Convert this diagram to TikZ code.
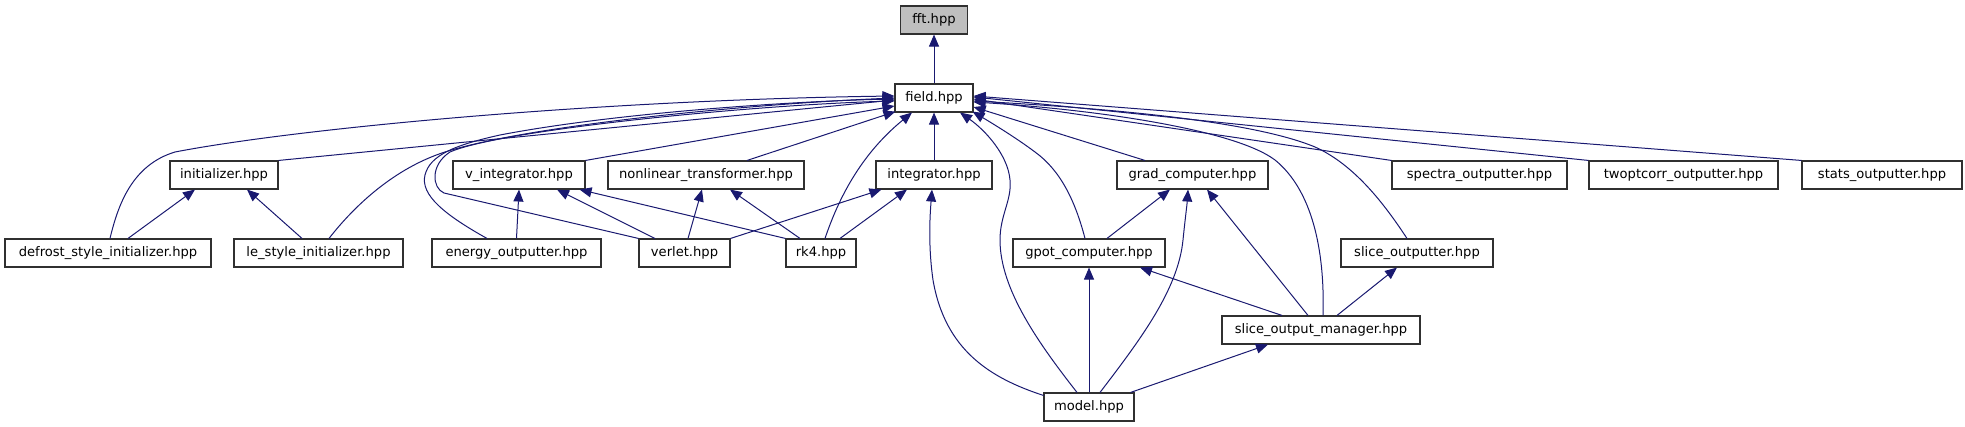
\documentclass[tikz,border=0pt]{standalone}
\usepackage{fontspec}
\setmainfont{DejaVu Sans}
\usetikzlibrary{arrows.meta,calc}
\definecolor{edgecol}{HTML}{191970}
\definecolor{fftfill}{HTML}{BFBFBF}
\definecolor{boxline}{HTML}{303030}
\begin{document}
\begin{tikzpicture}[x=1pt,y=-1pt,
  file/.style={draw=boxline, line width=1.1pt, fill=white, inner sep=0pt, minimum height=28pt,
    font=\fontsize{13.1}{15}\selectfont, text=black},
  dep/.style={draw=edgecol, line width=1pt, -{Triangle[length=12pt,width=10pt]}}
]
\useasboundingbox (0,0) rectangle (1965,427);
% rank 0 and 1
\node[file, fill=fftfill, minimum width=67pt] (fft) at (934,20) {fft.hpp};
\node[file, minimum width=78pt] (field) at (934,98) {field.hpp};
% rank 2
\node[file, minimum width=108pt] (initializer) at (224,175) {initializer.hpp};
\node[file, minimum width=132pt] (v_integrator) at (519,175) {v\_integrator.hpp};
\node[file, minimum width=196pt] (nonlinear) at (706,175) {nonlinear\_transformer.hpp};
\node[file, minimum width=116pt] (integrator) at (934,175) {integrator.hpp};
\node[file, minimum width=151pt] (grad) at (1192.5,175) {grad\_computer.hpp};
\node[file, minimum width=175pt] (spectra) at (1479.5,175) {spectra\_outputter.hpp};
\node[file, minimum width=189pt] (twoptcorr) at (1683.5,175) {twoptcorr\_outputter.hpp};
\node[file, minimum width=160pt] (stats) at (1882,175) {stats\_outputter.hpp};
% rank 3
\node[file, minimum width=206pt] (defrost) at (108,253) {defrost\_style\_initializer.hpp};
\node[file, minimum width=169pt] (le_style) at (318.5,253) {le\_style\_initializer.hpp};
\node[file, minimum width=169pt] (energy) at (516.5,253) {energy\_outputter.hpp};
\node[file, minimum width=91pt] (verlet) at (684.5,253) {verlet.hpp};
\node[file, minimum width=70pt] (rk4) at (821,253) {rk4.hpp};
\node[file, minimum width=152pt] (gpot) at (1089,253) {gpot\_computer.hpp};
\node[file, minimum width=152pt] (slice_outputter) at (1417,253) {slice\_outputter.hpp};
% rank 4 and 5
\node[file, minimum width=198pt] (som) at (1321,330) {slice\_output\_manager.hpp};
\node[file, minimum width=90pt] (model) at (1089,407) {model.hpp};

% edges to fft
\draw[dep] (field.north) -- (fft.south);
% edges to field, left side
\draw[dep] ($(defrost.north)+(2,0)$) .. controls (118,205) and (132,165) .. (175,152)
  .. controls (300,128) and (600,100) .. ($(field.west)+(0,-2)$);
\draw[dep] (initializer.north east) -- ($(field.west)+(0,2)$);
\draw[dep] ($(le_style.north)+(10.5,0)$) .. controls (355,205) and (395,168) .. (445,152)
  .. controls (530,125) and (750,104) .. (field.west);
\draw[dep] ($(energy.north)+(-29.5,0)$) .. controls (445,215) and (420,195) .. (425,175)
  .. controls (430,155) and (455,145) .. (500,135)
  .. controls (620,112) and (800,101) .. ($(field.west)+(0,1)$);
\draw[dep] (verlet.north west) -- (444,193) .. controls (432,188) and (430,165) .. (450,152)
  .. controls (500,130) and (750,105) .. ($(field.west)+(0,3)$);
\draw[dep] (v_integrator.north east) -- ($(field.west)+(0,8)$);
\draw[dep] ($(nonlinear.north)+(41,0)$) -- ($(field.south west)+(1,-1)$);
\draw[dep] ($(rk4.north)+(4,0)$) .. controls (838,200) and (860,155) .. ($(field.south)+(-22,0)$);
\draw[dep] (integrator.north) -- (field.south);
% edges to field, right side
\draw[dep] ($(model.north)+(-12,0)$) .. controls (1040,345) and (1000,290) .. (1000,240)
  .. controls (1000,215) and (1012,200) .. (1010,180)
  .. controls (1008,155) and (985,130) .. ($(field.south)+(26,0)$);
\draw[dep] ($(gpot.north)+(-4,0)$) .. controls (1075,200) and (1060,170) .. (1035,152)
  .. controls (1015,137) and (990,122) .. ($(field.south east)+(-1,-1)$);
\draw[dep] ($(grad.north)+(-47.5,0)$) -- ($(field.east)+(0,9)$);
\draw[dep] ($(som.north)+(2,0)$) .. controls (1325,250) and (1312,190) .. (1275,160)
  .. controls (1235,130) and (1100,110) .. ($(field.east)+(0,4)$);
\draw[dep] ($(slice_outputter.north)+(-10,0)$) .. controls (1385,205) and (1355,165) .. (1315,147)
  .. controls (1250,120) and (1100,108) .. ($(field.east)+(0,3)$);
\draw[dep] (spectra.north west) -- ($(field.east)+(0,1)$);
\draw[dep] (twoptcorr.north west) -- ($(field.east)+(0,-1)$);
\draw[dep] (stats.north west) -- ($(field.east)+(0,-2)$);
% other edges
\draw[dep] ($(defrost.north)+(20,0)$) -- ($(initializer.south)+(-29,0)$);
\draw[dep] ($(le_style.north)+(-16.5,0)$) -- ($(initializer.south)+(23,0)$);
\draw[dep] (energy.north) -- (v_integrator.south);
\draw[dep] ($(verlet.north)+(-29.5,0)$) -- ($(v_integrator.south)+(38,0)$);
\draw[dep] (rk4.north west) -- ($(v_integrator.south east)+(-6,0)$);
\draw[dep] ($(verlet.north)+(3.5,0)$) -- ($(nonlinear.south)+(-4,0)$);
\draw[dep] ($(rk4.north)+(-21,0)$) -- ($(nonlinear.south)+(24,0)$);
\draw[dep] (verlet.north east) -- ($(integrator.south west)+(6,0)$);
\draw[dep] ($(rk4.north)+(19,0)$) -- ($(integrator.south)+(-27,0)$);
\draw[dep] ($(model.north west)+(0,3)$) .. controls (990,378) and (945,350) .. (933,280)
  .. controls (928,245) and (930,215) .. ($(integrator.south)+(-2,0)$);
\draw[dep] ($(gpot.north)+(18,0)$) -- ($(grad.south)+(-22.5,0)$);
\draw[dep] ($(model.north)+(11,0)$) .. controls (1140,340) and (1178,290) .. (1183,240)
  .. controls (1185,220) and (1187,205) .. ($(grad.south)+(-4.5,0)$);
\draw[dep] ($(som.north)+(-13,0)$) -- ($(grad.south)+(14.5,0)$);
\draw[dep] (model.north) -- (gpot.south);
\draw[dep] ($(som.north)+(-39,0)$) -- ($(gpot.south)+(51,0)$);
\draw[dep] ($(som.north)+(16,0)$) -- ($(slice_outputter.south)+(-20,0)$);
\draw[dep] ($(model.north east)+(-4,0)$) -- ($(som.south)+(-53,0)$);
\end{tikzpicture}
\end{document}
